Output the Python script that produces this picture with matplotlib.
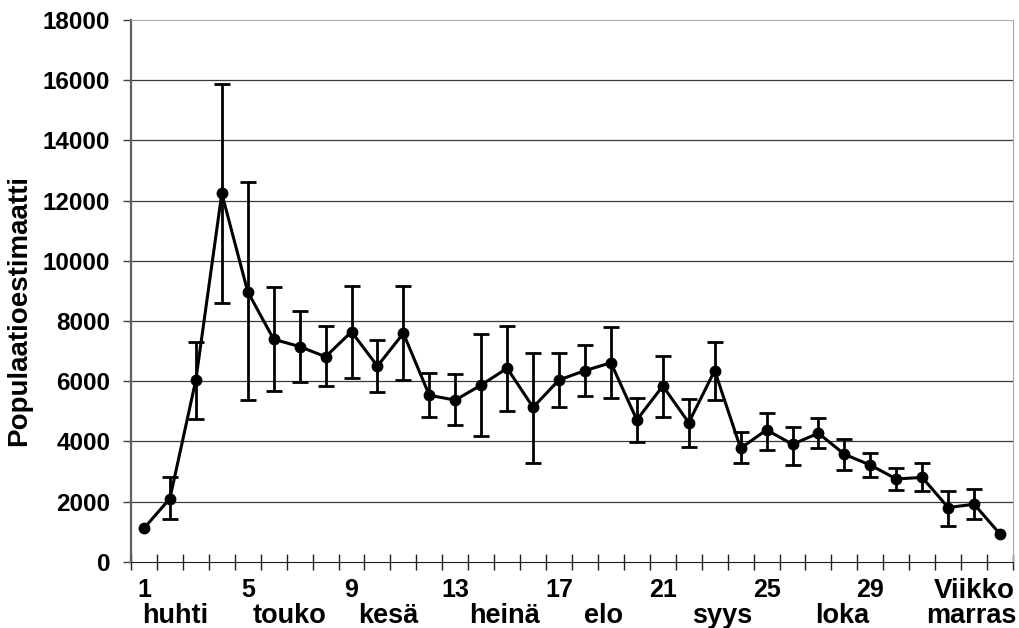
import matplotlib.pyplot as plt
import numpy as np

plt.rcParams['font.family'] = ['Liberation Sans', 'DejaVu Sans']
plt.rcParams['font.weight'] = 'bold'

# weekly estimates, week 1..34
weeks = np.arange(1, 35)
estimate = [1110, 2100, 6040, 12240, 8970, 7390, 7150, 6810, 7640, 6500,
            7590, 5530, 5370, 5870, 6430, 5130, 6040, 6350, 6610, 4710,
            5840, 4620, 6350, 3770, 4380, 3900, 4270, 3570, 3210, 2750,
            2800, 1800, 1910, 920]
err_hi = [1110, 2800, 7310, 15860, 12610, 9140, 8340, 7840, 9160, 7370,
          9160, 6260, 6230, 7560, 7830, 6950, 6950, 7200, 7790, 5450,
          6840, 5400, 7310, 4300, 4930, 4490, 4790, 4070, 3600, 3120,
          3290, 2350, 2420, 920]
err_lo = [1110, 1410, 4730, 8590, 5370, 5670, 5980, 5840, 6110, 5650,
          6040, 4800, 4540, 4190, 5020, 3290, 5130, 5520, 5450, 3970,
          4820, 3800, 5370, 3270, 3710, 3210, 3790, 3050, 2830, 2380,
          2350, 1200, 1410, 920]

num_labels = ['1', '5', '9', '13', '17', '21', '25', '29', 'Viikko']
num_pos = [1, 5, 9, 13, 17, 21, 25, 29, 33]
months = ['huhti', 'touko', 'kesä', 'heinä', 'elo', 'syys', 'loka', 'marras']
month_pos = [2.2, 6.6, 10.4, 14.9, 18.7, 23.3, 27.9, 32.9]

est = np.array(estimate)
hi = np.array(err_hi)
lo = np.array(err_lo)
has_err = (hi - lo) > 0

fig = plt.figure(figsize=(10.19, 6.28), dpi=100)
ax = fig.add_axes([131 / 1019, (628 - 561.7) / 628, (1013 - 131) / 1019, (561.7 - 20) / 628])

for y in range(2000, 18000, 2000):
    ax.axhline(y, color='#3a3a3a', linewidth=0.9, zorder=1)

ax.errorbar(weeks[has_err], est[has_err],
            yerr=[est[has_err] - lo[has_err], hi[has_err] - est[has_err]],
            fmt='none', ecolor='black', elinewidth=2, capsize=5.5, capthick=2, zorder=2)
ax.plot(weeks, est, color='black', linewidth=2.2, marker='o', markersize=7.5, zorder=3)

ax.set_xlim(0.5, 34.5)
ax.set_ylim(0, 18000)
ax.set_yticks(range(0, 18001, 2000))
ax.tick_params(axis='y', labelsize=17.5, length=6, width=1, color='#404040', pad=9)

ax.set_xticks(np.arange(0.5, 35, 1))
ax.set_xticklabels([])
ax.tick_params(axis='x', direction='inout', length=11, width=1, color='#202020')
ax.set_xticks(num_pos, minor=True)
ax.set_xticklabels(num_labels, minor=True)
ax.tick_params(axis='x', which='minor', length=0, pad=12)
for lab in ax.get_xticklabels(minor=True):
    lab.set_fontsize(20 if lab.get_text() == 'Viikko' else 18)

for m, p in zip(months, month_pos):
    ax.text(p, -2030, m, ha='center', va='baseline', fontsize=19.5, fontweight='bold',
            clip_on=False)

ax.spines['top'].set_color('#b0b0b0')
ax.spines['right'].set_color('#a8a8a8')
ax.spines['left'].set_color('#606060')
ax.spines['left'].set_linewidth(1.6)
ax.spines['bottom'].set_color('#202020')

fig.text(19 / 1019, 1 - 310 / 628, 'Populaatioestimaatti', rotation=90,
         ha='center', va='center', fontsize=20, fontweight='bold')

fig.savefig('out.png', dpi=100)
